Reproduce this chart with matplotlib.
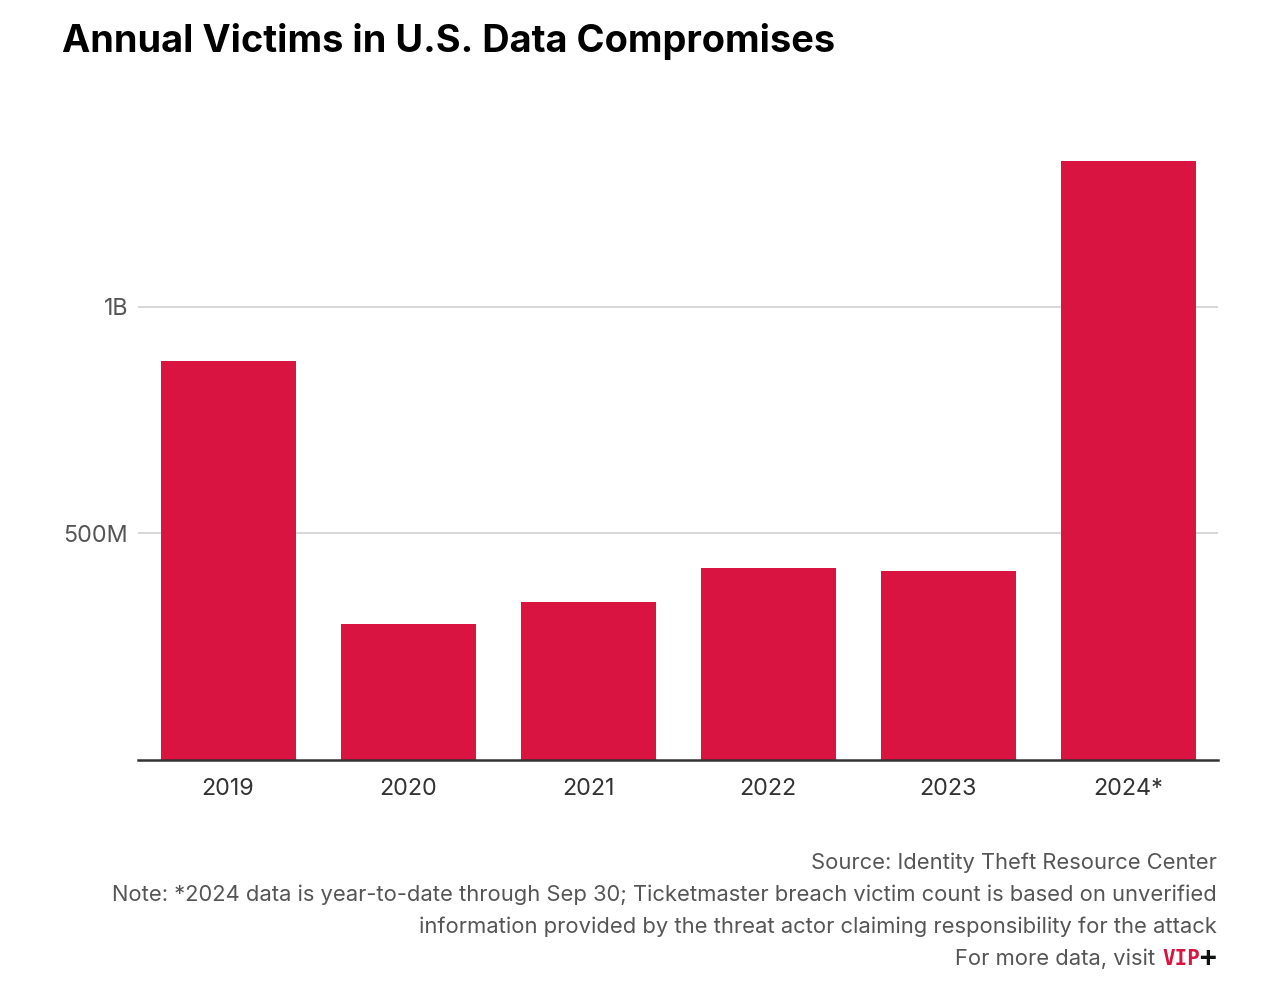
import matplotlib
matplotlib.use("Agg")
import matplotlib.pyplot as plt
from matplotlib.ticker import FuncFormatter

years = ["2019", "2020", "2021", "2022", "2023", "2024*"]
victims = [881e6, 300e6, 349e6, 424e6, 417e6, 1322e6]
yticks = [500e6, 1e9]

W, H = 1266, 1006
BAR = "#d91440"

plt.rcParams["font.family"] = ["Inter", "DejaVu Sans"]

fig = plt.figure(figsize=(W / 100, H / 100), dpi=100)


def fx(px):
    return px / W


def fy(py):
    return 1 - py / H


ax = fig.add_axes([fx(138), fy(760), fx(1218) - fx(138), fy(103) - fy(760)])
x = range(len(years))
ax.bar(x, victims, width=0.75, color=BAR, zorder=2)
ax.set_xlim(-0.5, len(years) - 0.5)
ax.set_ylim(0, 1.45e9)

ax.set_yticks(yticks)
ax.yaxis.set_major_formatter(FuncFormatter(
    lambda v, p: f"{v / 1e9:g}B" if v >= 1e9 else f"{v / 1e6:g}M"))
ax.set_xticks(list(x))
ax.set_xticklabels(years)
ax.grid(axis="y", color="#d4d4d4", linewidth=1.3, zorder=0)
for s in ["top", "right", "left"]:
    ax.spines[s].set_visible(False)
ax.spines["bottom"].set_color("#333333")
ax.spines["bottom"].set_linewidth(1.8)
ax.spines["bottom"].set_zorder(3)
ax.tick_params(axis="both", length=0, labelsize=16.8, labelcolor="#333333")
ax.tick_params(axis="x", pad=13)
ax.tick_params(axis="y", pad=7, labelcolor="#555555")

fig.text(fx(62), fy(42), "Annual Victims in U.S. Data Compromises",
         fontsize=27.3, fontweight="bold", color="#000000", va="center", ha="left")

foot = "#555555"
fs = 15.8
fig.text(fx(1217), fy(863), "Source: Identity Theft Resource Center",
         fontsize=fs, color=foot, ha="right", va="center")
fig.text(fx(1217), fy(895),
         "Note: *2024 data is year-to-date through Sep 30; Ticketmaster breach victim count is based on unverified",
         fontsize=fs, color=foot, ha="right", va="center")
fig.text(fx(1217), fy(927),
         "information provided by the threat actor claiming responsibility for the attack",
         fontsize=fs, color=foot, ha="right", va="center")
fig.text(fx(1155), fy(959), "For more data, visit",
         fontsize=fs, color=foot, ha="right", va="center")
fig.text(fx(1200), fy(959), "VIP", fontsize=15, fontweight="bold", color=BAR,
         family="DejaVu Sans Mono", ha="right", va="center")
fig.text(fx(1199), fy(958), "+", fontsize=20, fontweight="bold", color="#111111",
         family="DejaVu Sans Mono", ha="left", va="center")

fig.savefig("out.png", dpi=100, facecolor="white")
